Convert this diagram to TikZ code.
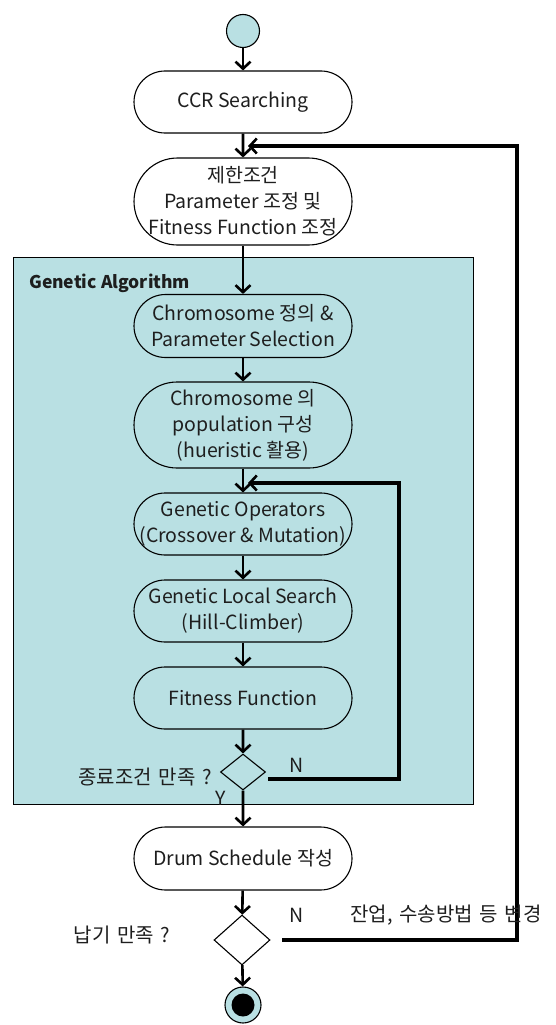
\documentclass[tikz,border=0pt]{standalone}
\usepackage{fontspec}
\setmainfont{Noto Sans CJK KR}
\newfontfamily\krw[WordSpace=1.5]{Noto Sans CJK KR}
\usetikzlibrary{shapes.misc,shapes.geometric,arrows.meta}
\definecolor{gacyan}{RGB}{185,224,227}
\definecolor{txt}{RGB}{30,30,30}
\newcommand{\zw}[1]{\makebox[0pt]{#1}}
\begin{document}
\begin{tikzpicture}[x=1pt,y=-1pt,
  font=\fontsize{19.5}{26}\selectfont, text=txt,
  proc/.style={rounded rectangle, rounded rectangle arc length=180, draw, line width=1.1pt,
    minimum width=218pt, minimum height=62pt, inner sep=0pt, align=center},
  white/.style={fill=white},
  dec/.style={diamond, draw, line width=1.1pt, inner sep=0pt},
  ar/.style={line width=2.6pt, -{Straight Barb[length=7pt,width=15pt]}},
  fb/.style={line width=4pt, -{Straight Barb[length=7pt,width=15pt,line width=2.6pt]}},
  lbl/.style={inner sep=0pt},
  krl/.style={inner sep=0pt, font=\fontsize{20}{26}\krw}]
\useasboundingbox (0,0) rectangle (555,1025);

% Genetic Algorithm frame
\draw[fill=gacyan, line width=1pt] (13,257) rectangle (473,804);
\node[lbl, anchor=west, font=\fontsize{17.5}{20}\selectfont\bfseries] (galbl) at (29,283) {Genetic Algorithm};

% nodes
\node[circle, draw, fill=gacyan, line width=1.1pt, minimum size=33pt, inner sep=0pt] (start) at (243,31) {};
\node[proc, white] (ccr) at (243,102) {CCR Searching};
\node[proc, white, minimum height=87pt] (n2) at (243,201.5) {\zw{제한조건}\\\zw{Parameter 조정 및}\\\zw{Fitness Function 조정}};
\node[proc, minimum height=63pt] (c1) at (243,326) {\zw{Chromosome 정의 \&}\\\zw{Parameter Selection}};
\node[proc, minimum height=86pt] (c2) at (243,425) {\zw{Chromosome 의}\\\zw{population 구성}\\\zw{(hueristic 활용)}};
\node[proc] (go) at (243,524) {\zw{Genetic Operators}\\\zw{(Crossover \& Mutation)}};
\node[proc] (gls) at (243,611) {\zw{Genetic Local Search}\\\zw{(Hill-Climber)}};
\node[proc] (ff) at (243,698) {Fitness Function};
\node[dec, minimum width=45pt, minimum height=36pt] (d1) at (243,772) {};
\node[proc, white, minimum height=63pt] (drum) at (243,858.5) {Drum Schedule 작성};
\node[dec, fill=white, minimum width=56pt, minimum height=50pt] (d2) at (242,940) {};
\node[circle, draw, fill=gacyan, line width=1.1pt, minimum width=34pt, minimum height=36pt, inner sep=0pt] (end) at (243,1005) {};
\node[circle, fill=black, minimum size=23pt, inner sep=0pt] (endin) at (243,1005) {};

% labels
\node[krl, anchor=east] (q1) at (212,777) {종료조건 만족 ?};
\node[lbl] (y1) at (221,798) {Y};
\node[lbl] (n1) at (297,765) {N};
\node[krl] (q2) at (122,935) {납기 만족 ?};
\node[lbl] (nn2) at (297,915) {N};

% main flow
\draw[ar] (start) -- (ccr);
\draw[ar] (ccr) -- (n2);
\draw[ar] (n2) -- (c1);
\draw[ar] (c1) -- (c2);
\draw[ar] (c2) -- (go);
\draw[ar] (go) -- (gls);
\draw[ar] (gls) -- (ff);
\draw[ar] (ff) -- (d1);
\draw[ar] (d1) -- (drum);
\draw[ar] (drum) -- (d2);
\draw[ar] (d2) -- (end);

% inner loop
\coordinate (l1s) at (268,779);
\coordinate (l1e) at (248,483);
\draw[fb] (l1s) -- (399,779) -- (399,483) -- (l1e);

% outer loop
\coordinate (l2s) at (282,940);
\coordinate (l2e) at (248,146);
\draw[fb] (l2s) -- (517,940) -- (517,146) -- (l2e);

\node[krl, anchor=west] (chg) at (350,915) {잔업, 수송방법 등 변경};
\end{tikzpicture}
\end{document}
